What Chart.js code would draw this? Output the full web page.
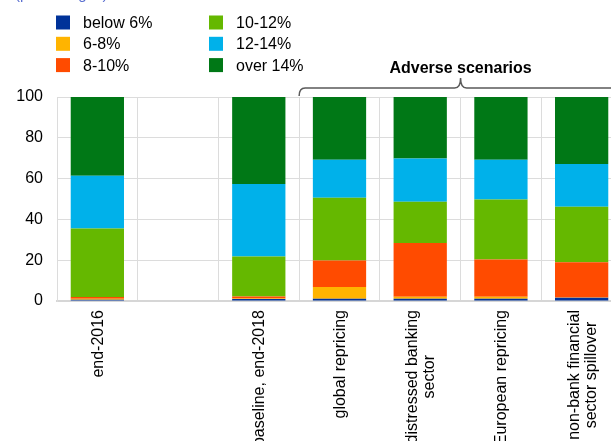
<!DOCTYPE html>
<html>
<head>
<meta charset="utf-8">
<script src="https://cdn.jsdelivr.net/npm/chart.js@4/dist/chart.umd.min.js"></script>
<style>
  html, body { margin: 0; padding: 0; background: #fff; overflow: hidden; }
  #wrap { position: absolute; left: 0; top: 0; width: 630px; height: 480px; }
</style>
</head>
<body>
<div id="wrap"><canvas id="chart"></canvas></div>
<script>
// Danh mục (trục x)
const categories = ['end-2016', '', 'baseline, end-2018', 'global repricing',
    ['distressed banking', 'sector'], 'European repricing', ['non-bank financial', 'sector spillover']];

// Các chuỗi dữ liệu (phần trăm)
const below6  = [0.6, null, 1.0, 1.1, 1.1, 1.1, 1.6];
const r6to8   = [0.5, null, 0.2, 5.8, 1.0, 1.0, 0.1];
const r8to10  = [0.8, null, 1.0, 12.9, 26.3, 18.3, 17.3];
const r10to12 = [33.6, null, 19.6, 30.8, 20.3, 29.4, 27.2];
const r12to14 = [25.9, null, 35.5, 18.7, 21.1, 19.5, 21.0];
const over14  = [38.6, null, 42.7, 30.7, 30.2, 30.7, 32.8];

const seriesLabels = ['below 6%', '6-8%', '8-10%', '10-12%', '12-14%', 'over 14%'];
const seriesColors = ['#003299', '#FFB400', '#FF4B00', '#65B800', '#00B1EA', '#007816'];
const yTicks = [0, 20, 40, 60, 80, 100];

const FONT = '"Liberation Sans", Arial, sans-serif';

const seriesData = [below6, r6to8, r8to10, r10to12, r12to14, over14];
const datasets = seriesData.map((d, i) => ({
    label: seriesLabels[i],
    data: d,
    backgroundColor: seriesColors[i],
    borderWidth: 0,
    barPercentage: 0.66,
    categoryPercentage: 1.0
}));

// Chú thích 2 cột, xếp theo cột
const legendPlugin = {
    id: 'colLegend',
    afterDraw(chart) {
        const ctx = chart.ctx;
        ctx.save();
        // dòng tiêu đề phụ bị cắt ở trên cùng
        ctx.fillStyle = '#5a6fd0';
        ctx.font = '15px ' + FONT;
        ctx.textBaseline = 'alphabetic';
        ctx.fillText('(percentages)', 15, -1);

        ctx.font = '16px ' + FONT;
        ctx.textBaseline = 'middle';
        chart.data.datasets.forEach((ds, i) => {
            const col = Math.floor(i / 3), row = i % 3;
            const x = 56 + col * 153;
            const y = 22.5 + row * 21.3;
            ctx.fillStyle = ds.backgroundColor;
            ctx.fillRect(x, y - 7, 14, 14);
            ctx.fillStyle = '#000';
            ctx.fillText(ds.label, x + 27, y + 1);
        });
        ctx.restore();
    }
};

// Nhãn trục x xoay dọc, nhiều dòng căn giữa
const xLabelPlugin = {
    id: 'xLabels',
    afterDraw(chart) {
        const ctx = chart.ctx;
        const xs = chart.scales.x;
        const top = chart.chartArea.bottom + 9;
        ctx.save();
        ctx.font = '16px ' + FONT;
        ctx.fillStyle = '#000';
        ctx.textBaseline = 'middle';
        categories.forEach((lab, i) => {
            const lines = Array.isArray(lab) ? lab : [lab];
            const cx = xs.getPixelForValue(i);
            const lh = 17;
            const widest = Math.max(...lines.map(l => ctx.measureText(l).width));
            lines.forEach((line, k) => {
                const off = (k - (lines.length - 1) / 2) * lh;
                ctx.save();
                ctx.translate(cx + off, top + widest / 2);
                ctx.rotate(-Math.PI / 2);
                ctx.textAlign = 'center';
                ctx.fillText(line, 0, 1);
                ctx.restore();
            });
        });
        ctx.restore();
    }
};

// Ngoặc nhọn "Adverse scenarios"
const bracePlugin = {
    id: 'brace',
    afterDraw(chart) {
        const ctx = chart.ctx;
        const xs = chart.scales.x;
        const half = (xs.getPixelForValue(1) - xs.getPixelForValue(0)) / 2;
        const x0 = xs.getPixelForValue(3) - half;
        const x1 = xs.getPixelForValue(6) + half;
        const mid = (x0 + x1) / 2;
        const yLine = 88, yEnd = 96, yTip = 78, r = 6;
        ctx.save();
        ctx.strokeStyle = '#5a5a5a';
        ctx.lineWidth = 1.5;
        ctx.beginPath();
        ctx.moveTo(x0, yEnd);
        ctx.quadraticCurveTo(x0, yLine, x0 + r, yLine);
        ctx.lineTo(mid - r, yLine);
        ctx.quadraticCurveTo(mid, yLine, mid, yTip);
        ctx.quadraticCurveTo(mid, yLine, mid + r, yLine);
        ctx.lineTo(x1 - r, yLine);
        ctx.quadraticCurveTo(x1, yLine, x1, yEnd);
        ctx.stroke();
        ctx.fillStyle = '#000';
        ctx.font = 'bold 16px ' + FONT;
        ctx.textAlign = 'center';
        ctx.textBaseline = 'middle';
        ctx.fillText('Adverse scenarios', mid, 69);
        ctx.restore();
    }
};

new Chart(document.getElementById('chart'), {
    type: 'bar',
    data: { labels: categories, datasets: datasets },
    options: {
        responsive: true, maintainAspectRatio: false,
        animation: false,
        layout: { padding: { left: 0, top: 97, right: 8, bottom: 179 } },
        plugins: { legend: { display: false }, tooltip: { enabled: false } },
        scales: {
            x: {
                stacked: true,
                grid: { color: '#dcdcdc', drawTicks: false, offset: true },
                border: { color: '#d6d6d6', width: 2 },
                ticks: { display: false }
            },
            y: {
                stacked: true,
                min: 0, max: 100,
                afterBuildTicks: (s) => { s.ticks = yTicks.map(v => ({ value: v })); },
                afterFit: (s) => { s.width = 57; },
                grid: { color: '#dcdcdc', drawTicks: false },
                border: { color: '#dcdcdc', width: 1 },
                ticks: { padding: 14, color: '#000', font: { family: FONT, size: 16 } }
            }
        }
    },
    plugins: [legendPlugin, xLabelPlugin, bracePlugin]
});
</script>
</body>
</html>
